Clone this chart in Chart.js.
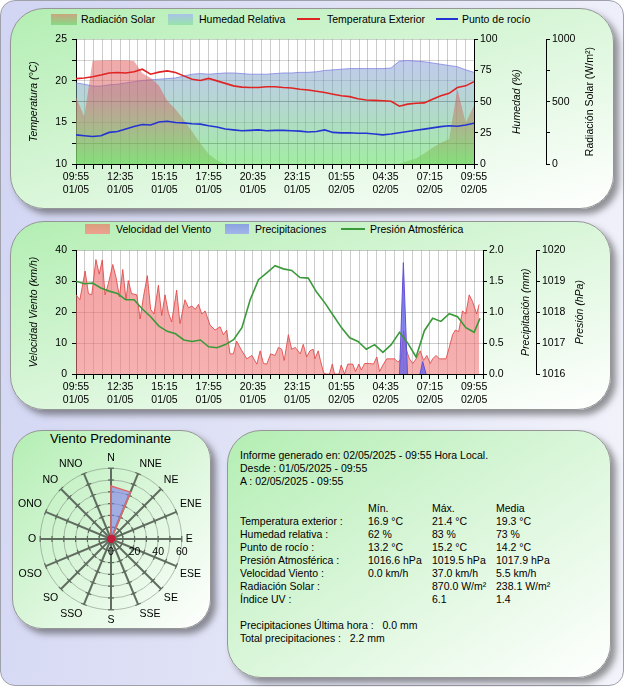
<!DOCTYPE html>
<html lang="es">
<head>
<meta charset="utf-8">
<title>Informe meteorológico</title>
<script src="https://cdn.jsdelivr.net/npm/chart.js@4.4.1/dist/chart.umd.min.js"></script>
<style>
  html, body { margin: 0; padding: 0; }
  body { width: 625px; height: 687px; position: relative; overflow: hidden;
         font-family: "Liberation Sans", Arial, sans-serif; color: #000; }
  #page { position: absolute; left: 0; top: 0; width: 622px; height: 684px;
          border: 1px solid #9ea0ac; border-radius: 15px;
          background: linear-gradient(100deg, #d2d5f3 0%, #e2e4f6 50%, #f3f4fb 100%); }
  .panel { position: absolute; border: 1px solid #969696; border-radius: 34px;
           background: linear-gradient(to bottom right, #b3eeb3 0%, #d6f5d6 45%, #ffffff 100%);
           box-shadow: 5px 5px 6px rgba(50,50,50,0.5); }
  canvas { position: absolute; }
  .lg { position: absolute; font-size: 10.5px; line-height: 12px; white-space: nowrap; }
  .sw { position: absolute; }
  .txt { position: absolute; font-size: 10.5px; line-height: 13px; white-space: pre; }
</style>
</head>
<body>
<div id="page"></div>

<div class="panel" style="left:10px;top:8px;width:602px;height:199px"></div>
<div class="panel" style="left:10px;top:221px;width:599px;height:187px"></div>
<div class="panel" style="left:12px;top:430px;width:197px;height:197px;border-radius:30px"></div>
<div class="panel" style="left:227px;top:430px;width:382px;height:246px"></div>

<!-- leyenda gráfico 1 -->
<div class="sw" style="left:51px;top:14px;width:26px;height:11px;background:linear-gradient(#c9a67e,#86da86)"></div>
<div class="lg" style="left:81px;top:13px">Radiación Solar</div>
<div class="sw" style="left:168px;top:14px;width:25px;height:11px;background:linear-gradient(#a9c3e8,#98e4a8)"></div>
<div class="lg" style="left:199px;top:13px">Humedad Relativa</div>
<div class="sw" style="left:297px;top:18px;width:23px;height:1.5px;background:#e02424"></div>
<div class="lg" style="left:327px;top:13px">Temperatura Exterior</div>
<div class="sw" style="left:436px;top:18px;width:22px;height:1.5px;background:#2434d2"></div>
<div class="lg" style="left:462px;top:13px">Punto de rocío</div>
<canvas id="c1" width="590" height="180" style="left:16px;top:28px"></canvas>

<!-- leyenda gráfico 2 -->
<div class="sw" style="left:85px;top:224px;width:25px;height:10px;background:linear-gradient(#d8a07c,#efa090)"></div>
<div class="lg" style="left:116px;top:223px">Velocidad del Viento</div>
<div class="sw" style="left:225px;top:224px;width:24px;height:10px;background:linear-gradient(#8aa2e0,#a2b6ea)"></div>
<div class="lg" style="left:255px;top:223px">Precipitaciones</div>
<div class="sw" style="left:341px;top:228px;width:24px;height:1.5px;background:#3a9a3a"></div>
<div class="lg" style="left:370px;top:223px">Presión Atmosférica</div>
<canvas id="c2" width="580" height="179" style="left:16px;top:239px"></canvas>

<!-- rosa de vientos -->
<div class="lg" style="left:12px;top:431px;width:197px;text-align:center;font-size:13px;line-height:15px">Viento Predominante</div>
<canvas id="c3" width="186" height="186" style="left:17px;top:446px"></canvas>

<!-- resumen -->
<div class="txt" style="left:240px;top:449px">Informe generado en: 02/05/2025 - 09:55 Hora Local.
Desde : 01/05/2025 - 09:55
A : 02/05/2025 - 09:55</div>
<div class="txt" style="left:240px;top:502px"> 
Temperatura exterior :
Humedad relativa :
Punto de rocío :
Presión Atmosférica :
Velocidad Viento :
Radiación Solar :
Índice UV :</div>
<div class="txt" style="left:368px;top:502px">Mín.
16.9 °C
62 %
13.2 °C
1016.6 hPa
0.0 km/h</div>
<div class="txt" style="left:432px;top:502px">Máx.
21.4 °C
83 %
15.2 °C
1019.5 hPa
37.0 km/h
870.0 W/m²
6.1</div>
<div class="txt" style="left:496px;top:502px">Media
19.3 °C
73 %
14.2 °C
1017.9 hPa
5.5 km/h
238.1 W/m²
1.4</div>
<div class="txt" style="left:240px;top:619px">Precipitaciones Última hora :   0.0 mm
Total precipitaciones :   2.2 mm</div>

<script>
const FONT = '"Liberation Sans", Arial, sans-serif';
Chart.defaults.font.family = FONT;
Chart.defaults.font.size = 10.5;
Chart.defaults.color = '#000';
Chart.defaults.animation = false;

// etiquetas del eje de tiempo (cada 160 min)
const timeLabels = ['09:55', '12:35', '15:15', '17:55', '20:35', '23:15', '01:55', '04:35', '07:15', '09:55'];
const dateLabels = ['01/05', '01/05', '01/05', '01/05', '01/05', '01/05', '02/05', '02/05', '02/05', '02/05'];

// gráfico 1: minutos desde 01/05 09:55, cada 30 min
const halfHours = [0, 30, 60, 90, 120, 150, 180, 210, 240, 270, 300, 330, 360, 390, 420, 450, 480, 510, 540, 570,
  600, 630, 660, 690, 720, 750, 780, 810, 840, 870, 900, 930, 960, 990, 1020, 1050, 1080, 1110, 1140, 1170,
  1200, 1230, 1260, 1290, 1320, 1350, 1380, 1410, 1440];
const tempExt = [20.27, 20.35, 20.5, 20.7, 20.95, 21.0, 20.95, 21.1, 21.4, 20.8, 21.05, 21.2, 21.0, 20.6, 20.2, 20.05,
  20.3, 20.0, 19.7, 19.4, 19.25, 19.2, 19.2, 19.3, 19.3, 19.2, 19.15, 19.0, 18.9, 18.75, 18.6, 18.4, 18.2, 18.1,
  17.85, 17.7, 17.65, 17.6, 17.55, 16.95, 17.2, 17.3, 17.35, 17.8, 18.2, 18.5, 19.2, 19.4, 19.9];
const dewPoint = [13.5, 13.4, 13.3, 13.4, 13.8, 13.9, 14.2, 14.5, 14.75, 14.7, 15.05, 15.15, 15.0, 14.95, 14.85, 14.8,
  14.6, 14.45, 14.2, 14.1, 14.0, 14.05, 14.1, 14.0, 14.05, 14.05, 14.0, 13.95, 13.85, 13.9, 14.1, 13.8, 13.75, 13.75,
  13.7, 13.7, 13.6, 13.5, 13.6, 13.75, 13.9, 14.05, 14.2, 14.35, 14.5, 14.6, 14.55, 14.7, 14.9];
const humidity = [65, 64, 62.5, 62.5, 63.5, 64, 65, 66, 67, 67.5, 68, 68.5, 69, 70.5, 72, 72.5, 72, 72.5, 73, 73,
  72.5, 72, 72, 72, 72.5, 73, 73, 73.5, 73.5, 74, 75, 75.5, 76, 76.5, 76.5, 76.5, 76.5, 76.5, 77, 82.5,
  83, 82.5, 82, 81, 80, 79, 78, 75.5, 73.5];
const solarRad = [535, 380, 825, 830, 832, 832, 832, 825, 728, 690, 630, 508, 440, 355, 260, 165, 80, 30,
  0, 0, 0, 0, 0, 0, 0, 0, 0, 0, 0, 0, 0, 0, 0, 0, 0, 0, 0, 0, 0, 0,
  25, 44, 85, 130, 170, 200, 600, 330, 470];

// gráfico 2
const pressTimes = [0, 30, 60, 90, 120, 150, 180, 210, 240, 270, 300, 330, 360, 390, 420, 450, 480, 510, 540, 570,
  600, 630, 660, 690, 720, 750, 780, 810, 840, 870, 900, 930, 960, 990, 1020, 1050, 1080, 1110, 1140, 1170,
  1200, 1230, 1260, 1290, 1320, 1350, 1380, 1410, 1440, 1461];
const pressure = [1019.0, 1018.92, 1018.94, 1018.78, 1018.68, 1018.6, 1018.4, 1018.4, 1018.1, 1017.85,
  1017.55, 1017.38, 1017.3, 1017.1, 1017.05, 1017.1, 1016.88, 1016.85, 1016.95, 1017.11,
  1017.5, 1018.4, 1019.05, 1019.27, 1019.5, 1019.4, 1019.35, 1019.12, 1019.1, 1018.65,
  1018.3, 1017.9, 1017.5, 1017.17, 1017.05, 1016.8, 1016.95, 1016.7, 1016.95, 1017.35,
  1017.0, 1016.55, 1017.4, 1017.8, 1017.7, 1017.95, 1017.85, 1017.5, 1017.35, 1017.8];
const windTimes = [0, 14, 33, 45, 57, 72, 84, 95, 105, 117, 133, 145, 157, 169, 181, 189, 201, 220, 232, 244,
  258, 270, 282, 298, 310, 322, 334, 346, 364, 376, 394, 407, 419, 431, 443, 455, 467, 485, 503, 521,
  533, 545, 557, 569, 581, 600, 618, 636, 654, 666, 678, 690, 704, 720, 732, 744, 753, 768, 780, 793,
  811, 822, 834, 846, 858, 864, 876, 884, 896, 905, 917, 927, 935, 951, 959, 971, 983, 1001, 1011, 1023,
  1032, 1044, 1062, 1076, 1088, 1098, 1110, 1124, 1140, 1152, 1164, 1176, 1185, 1194, 1206, 1218, 1230, 1245, 1257, 1269,
  1281, 1290, 1302, 1314, 1326, 1338, 1350, 1362, 1372, 1384, 1398, 1410, 1422, 1434, 1449, 1458];
const windSpeed = [25.6, 24, 33.3, 26, 25.6, 37, 32.3, 36.9, 25.6, 29.2, 35.4, 31.2, 25, 33.8, 24, 30.2, 26, 25.6, 17.8, 25,
  31.8, 20.9, 19.4, 28.7, 18.9, 25.6, 19.9, 16.8, 27.1, 16.3, 24, 21.4, 22, 20.9, 22.5, 19.4, 20.4, 15.8, 14.2, 15.3,
  12.7, 14.2, 6.5, 6.5, 10.6, 7.5, 4.9, 6, 3.2, 7.5, 3.4, 3.2, 6.5, 6, 8.6, 8, 4.4, 12.7, 8, 8.6,
  6.5, 9.6, 5.5, 7.5, 8, 4.9, 7.5, 4.4, 0.3, 0, 0, 3.2, 0, 0, 2.9, 0, 3.2, 3.2, 0.8, 3.2,
  1.3, 3.4, 3.4, 3.2, 5.5, 0.8, 2.9, 4.9, 4.9, 4.9, 3.9, 4.7, 14, 8, 4.9, 3.4, 4.9, 7.5, 4.4, 6,
  3.4, 4.9, 6, 4.9, 4.9, 4.9, 8.6, 12.7, 14.2, 13.7, 20.4, 19.4, 25.6, 23.5, 19.4, 22.5];
const rainTimes = [1170, 1184, 1199, 1220, 1244, 1254, 1266];
const rainMm = [0, 1.8, 0, null, 0, 0.2, 0];

// rosa de vientos
const roseDirs = ['N', 'NNE', 'NE', 'ENE', 'E', 'ESE', 'SE', 'SSE', 'S', 'SSO', 'SO', 'OSO', 'O', 'ONO', 'NO', 'NNO'];
const roseFreq = [45, 43, 1, 0, 0, 0, 0, 0, 0, 0, 0, 0, 0, 0, 0, 0];
const roseTickLabels = [0, 20, 40, 60];

const pts = (xs, ys) => xs.map((x, i) => ({ x: x, y: ys[i] }));

function vGrad(stops) {
  return (ctx) => {
    const a = ctx.chart.chartArea;
    if (!a) return stops[0][1];
    const g = ctx.chart.ctx.createLinearGradient(0, a.top, 0, a.bottom);
    stops.forEach(s => g.addColorStop(s[0], s[1]));
    return g;
  };
}

// fondo blanco del área de trazado
const plotBg = {
  id: 'plotBg',
  beforeDraw(chart) {
    const a = chart.chartArea;
    const c = chart.ctx;
    c.save();
    c.fillStyle = '#fff';
    c.fillRect(a.left, a.top, a.right - a.left, a.bottom - a.top);
    c.restore();
  }
};

// títulos de ejes verticales (todos leídos de abajo arriba)
const sideTitles = {
  id: 'sideTitles',
  afterDraw(chart, args, opts) {
    const c = chart.ctx;
    (opts.items || []).forEach(it => {
      const s = chart.scales[it.axis];
      c.save();
      c.translate(s.left + it.dx, (s.top + s.bottom) / 2);
      c.rotate(-Math.PI / 2);
      c.font = (it.italic ? 'italic ' : '') + '10.5px ' + FONT;
      c.fillStyle = '#000';
      c.textAlign = 'center';
      c.textBaseline = 'middle';
      c.fillText(it.text, 0, 0);
      c.restore();
    });
  }
};

function timeAxis(max) {
  return {
    type: 'linear', min: 0, max: max,
    afterFit: s => { s.height = 44; },
    border: { color: '#000' },
    grid: { color: 'rgba(0,0,0,0.2)', tickColor: '#000', tickLength: 5 },
    ticks: {
      stepSize: 32, autoSkip: false, maxRotation: 0, padding: 2,
      callback: v => v % 160 === 0 ? [timeLabels[v / 160], dateLabels[v / 160]] : ''
    }
  };
}

function sideAxis(pos, min, max, step, width, label, grid) {
  return {
    position: pos, min: min, max: max,
    afterFit: s => { s.width = width; },
    border: { color: '#000' },
    grid: Object.assign({ drawOnChartArea: false, tickColor: '#000', tickLength: 4 }, grid || {}),
    ticks: { stepSize: step, padding: pos === 'left' ? 5 : 2, callback: label }
  };
}

new Chart(document.getElementById('c1'), {
  type: 'line',
  data: {
    datasets: [
      { label: 'Temperatura Exterior', data: pts(halfHours, tempExt), yAxisID: 'y',
        borderColor: '#e02424', borderWidth: 1.6, pointRadius: 0, fill: false },
      { label: 'Punto de rocío', data: pts(halfHours, dewPoint), yAxisID: 'y',
        borderColor: '#2434d2', borderWidth: 1.6, pointRadius: 0, fill: false },
      { label: 'Radiación Solar', data: pts(halfHours, solarRad), yAxisID: 'yR', borderWidth: 0,
        borderColor: 'rgba(0,0,0,0)',
        backgroundColor: vGrad([[0, 'rgba(232,80,80,0.5)'], [0.45, 'rgba(215,95,95,0.5)'], [1, 'rgba(110,210,90,0.55)']]),
        fill: 'origin', pointRadius: 0 },
      { label: 'Humedad Relativa', data: pts(halfHours, humidity), yAxisID: 'yH',
        borderColor: 'rgba(120,120,225,0.7)', borderWidth: 1,
        backgroundColor: vGrad([[0, 'rgba(130,130,240,0.45)'], [1, 'rgba(100,225,100,0.6)']]),
        fill: 'origin', pointRadius: 0 }
    ]
  },
  options: {
    responsive: false,
    layout: { padding: { top: 7 } },
    plugins: {
      legend: { display: false }, tooltip: { enabled: false },
      sideTitles: { items: [
        { axis: 'y', dx: 18, text: 'Temperatura (°C)', italic: true },
        { axis: 'yH', dx: 43, text: 'Humedad (%)', italic: true },
        { axis: 'yR', dx: 44, text: 'Radiación Solar (W/m²)', italic: false }
      ] }
    },
    scales: {
      x: timeAxis(1440),
      y: sideAxis('left', 10, 25, 2.5, 60, v => v % 5 === 0 ? v : '', {
        drawOnChartArea: true,
        color: c => (c.tick && (c.tick.value === 12.5 || c.tick.value === 17.5)) ? 'rgba(70,70,70,0.55)' : 'rgba(0,0,0,0.16)'
      }),
      yH: sideAxis('right', 0, 100, 12.5, 72, v => v % 25 === 0 ? v : ''),
      yR: sideAxis('right', 0, 1000, 250, 60, v => v % 500 === 0 ? v : '')
    }
  },
  plugins: [plotBg, sideTitles]
});

new Chart(document.getElementById('c2'), {
  type: 'line',
  data: {
    datasets: [
      { label: 'Presión Atmosférica', data: pts(pressTimes, pressure), yAxisID: 'yB',
        borderColor: '#3a9a3a', borderWidth: 1.6, pointRadius: 0, fill: false },
      { label: 'Precipitaciones', data: pts(rainTimes, rainMm), yAxisID: 'yP',
        borderColor: '#6050d8', borderWidth: 1, backgroundColor: 'rgba(95,95,235,0.75)',
        fill: 'origin', pointRadius: 0, spanGaps: false },
      { label: 'Velocidad del Viento', data: pts(windTimes, windSpeed), yAxisID: 'y',
        borderColor: 'rgba(225,70,70,0.85)', borderWidth: 1,
        backgroundColor: vGrad([[0, 'rgba(238,105,105,0.62)'], [1, 'rgba(240,125,125,0.6)']]),
        fill: 'origin', pointRadius: 0 }
    ]
  },
  options: {
    responsive: false,
    layout: { padding: { top: 7 } },
    plugins: {
      legend: { display: false }, tooltip: { enabled: false },
      sideTitles: { items: [
        { axis: 'y', dx: 18, text: 'Velocidad Viento (km/h)', italic: true },
        { axis: 'yP', dx: 43, text: 'Precipitación (mm)', italic: true },
        { axis: 'yB', dx: 44, text: 'Presión (hPa)', italic: true }
      ] }
    },
    scales: {
      x: timeAxis(1472),
      y: sideAxis('left', 0, 40, 5, 60, v => v % 10 === 0 ? v : '', {
        drawOnChartArea: true,
        color: c => (c.tick && c.tick.value % 10 === 0) ? 'rgba(0,0,0,0.2)' : 'rgba(0,0,0,0.06)'
      }),
      yP: sideAxis('right', 0, 2, 0.25, 53, v => Math.abs(v * 2 - Math.round(v * 2)) < 1e-6 ? v.toFixed(1) : ''),
      yB: sideAxis('right', 1016, 1020, 0.5, 60, v => Number.isInteger(v) ? v : '')
    }
  },
  plugins: [plotBg, sideTitles]
});

// marcas sobre los radios y rótulos de escala de la rosa
const roseMarks = {
  id: 'roseMarks',
  beforeDatasetsDraw(chart) {
    const r = chart.scales.r;
    const c = chart.ctx;
    c.save();
    c.strokeStyle = '#5b685b';
    c.lineWidth = 1.2;
    roseDirs.forEach((d, i) => {
      r.ticks.forEach(t => {
        if (t.value === 0) return;
        const p = r.getPointPosition(i, r.getDistanceFromCenterForValue(t.value));
        const nx = -Math.sin(p.angle) * 3, ny = Math.cos(p.angle) * 3;
        c.beginPath();
        c.moveTo(p.x - nx, p.y - ny);
        c.lineTo(p.x + nx, p.y + ny);
        c.stroke();
      });
    });
    c.restore();
  },
  afterDraw(chart) {
    const r = chart.scales.r;
    const c = chart.ctx;
    c.save();
    c.font = '10.5px ' + FONT;
    c.fillStyle = '#000';
    c.textAlign = 'center';
    c.textBaseline = 'middle';
    roseTickLabels.forEach(v => {
      c.fillText(String(v), r.xCenter + r.getDistanceFromCenterForValue(v), r.yCenter + 13);
    });
    c.restore();
  }
};

new Chart(document.getElementById('c3'), {
  type: 'radar',
  data: {
    labels: roseDirs,
    datasets: [{
      data: roseFreq,
      backgroundColor: 'rgba(125,125,235,0.6)',
      borderColor: '#e06a6a', borderWidth: 1.5,
      pointRadius: c => c.raw < 2 ? 3.5 : 0,
      pointBackgroundColor: '#c41e3a', pointBorderWidth: 0
    }]
  },
  options: {
    responsive: false,
    plugins: { legend: { display: false }, tooltip: { enabled: false } },
    scales: {
      r: {
        min: 0, max: 60,
        ticks: { stepSize: 10, display: false },
        grid: { circular: true, color: 'rgba(90,95,90,0.4)' },
        angleLines: { color: '#606d60', lineWidth: 2 },
        pointLabels: { font: { size: 10.5 }, color: '#000', padding: 4 }
      }
    }
  },
  plugins: [roseMarks]
});
</script>
</body>
</html>
